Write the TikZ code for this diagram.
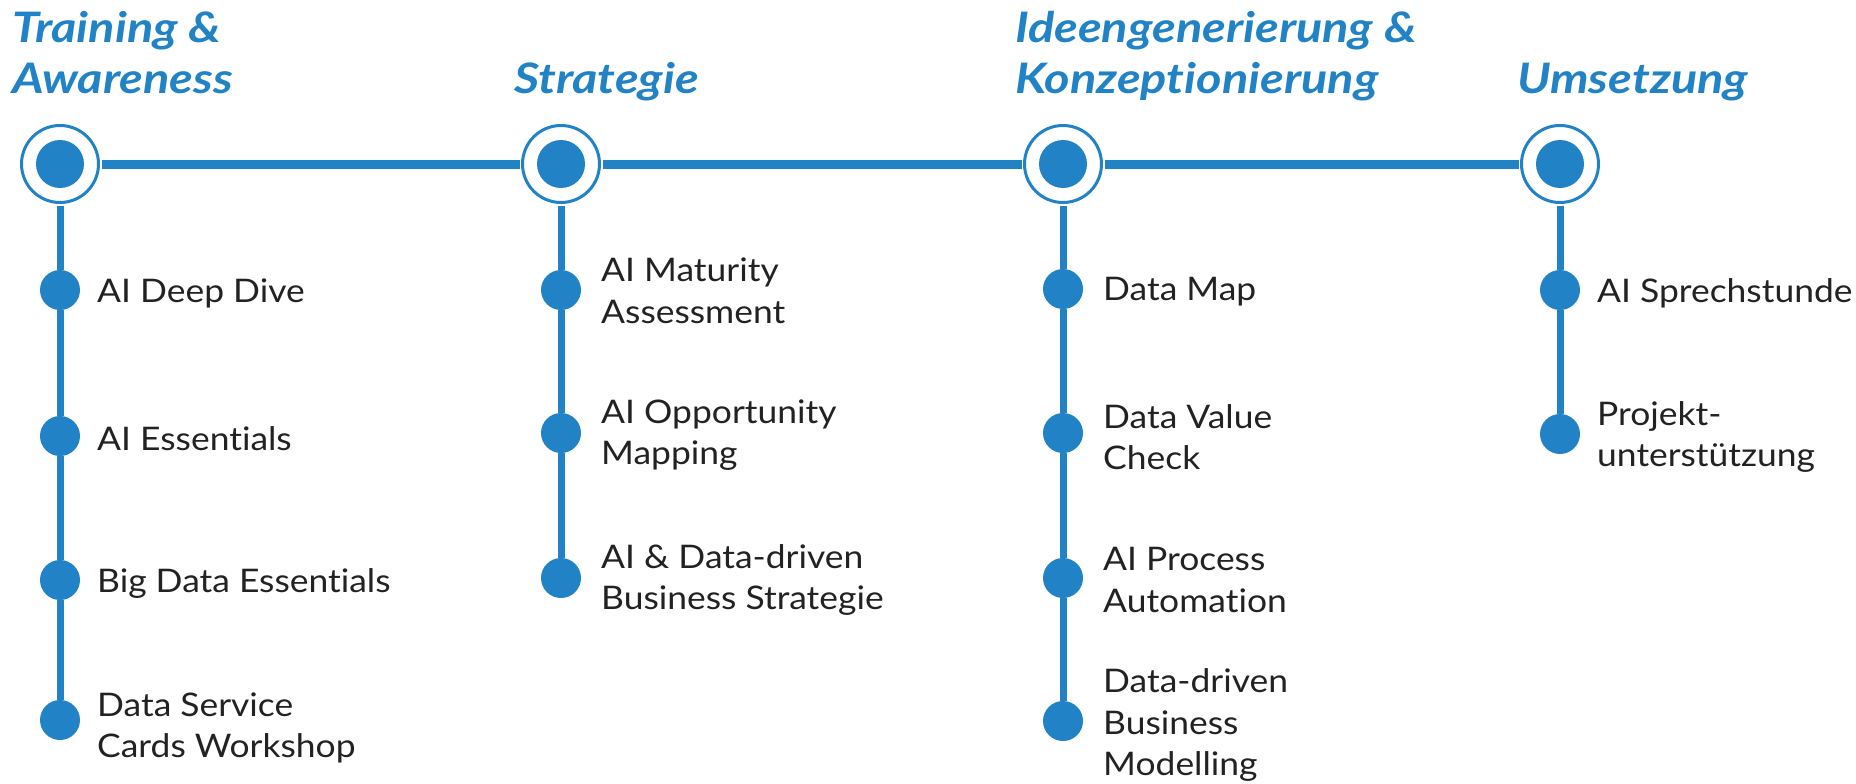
\documentclass[tikz,border=0pt]{standalone}
\usepackage{fontspec}
\setmainfont{Lato}[Ligatures=CommonOff]
\newfontfamily\itemfont{Lato}[Ligatures=CommonOff,FakeStretch=1.09]
\newfontfamily\titlefont{Lato}[Ligatures=CommonOff,FakeStretch=1.16]
\definecolor{tlblue}{RGB}{33,131,198}
\definecolor{tltext}{RGB}{34,34,34}
\begin{document}
\begin{tikzpicture}[x=1pt,y=-1pt,
  ring/.style={circle,draw=tlblue,line width=3pt,fill=white,minimum size=77pt,inner sep=0pt,outer sep=3pt,
    path picture={\fill[tlblue] (path picture bounding box.center) circle (24pt);}},
  dot/.style={circle,fill=tlblue,minimum size=40pt,inner sep=0pt,outer sep=0pt},
  hline/.style={draw=tlblue,line width=9pt},
  vline/.style={draw=tlblue,line width=7pt},
  item/.style={anchor=west,align=left,inner sep=0pt,text=tltext,font=\itemfont\fontsize{32.5}{41.5}\selectfont},
  ttl/.style={anchor=base west,align=left,inner sep=0pt,text=tlblue,font=\titlefont\fontsize{42}{51}\selectfont\bfseries\itshape}]
\useasboundingbox (0,0) rectangle (1856,784);
% rings
\node[ring] (r1) at (60,164) {};
\node[ring] (r2) at (561,164) {};
\node[ring] (r3) at (1063,164) {};
\node[ring] (r4) at (1560,164) {};
% dots
\node[dot] (d11) at (60,290) {};
\node[dot] (d12) at (60,436) {};
\node[dot] (d13) at (60,580) {};
\node[dot] (d14) at (60,720) {};
\node[dot] (d21) at (561,290) {};
\node[dot] (d22) at (561,433) {};
\node[dot] (d23) at (561,578) {};
\node[dot] (d31) at (1063,289) {};
\node[dot] (d32) at (1063,433) {};
\node[dot] (d33) at (1063,578) {};
\node[dot] (d34) at (1063,721) {};
\node[dot] (d41) at (1560,290) {};
\node[dot] (d42) at (1560,434) {};
% connectors
\draw[hline] (r1) -- (r2);
\draw[hline] (r2) -- (r3);
\draw[hline] (r3) -- (r4);
\draw[vline] (r1) -- (d11) -- (d12) -- (d13) -- (d14);
\draw[vline] (r2) -- (d21) -- (d22) -- (d23);
\draw[vline] (r3) -- (d31) -- (d32) -- (d33) -- (d34);
\draw[vline] (r4) -- (d41) -- (d42);
% titles
\node[ttl] (t1) at (12,93) {Training \&\\Awareness};
\node[ttl] (t2) at (514,93) {Strategie};
\node[ttl] (t3) at (1015,93) {Ideengenerierung \&\\Konzeptionierung};
\node[ttl] (t4) at (1517,93) {Umsetzung};
% items
\node[item] (l11) at (97,293) {AI Deep Dive};
\node[item] (l12) at (97,439) {AI Essentials};
\node[item] (l13) at (97,583) {Big Data Essentials};
\node[item] (l14) at (97,728) {Data Service\\Cards Workshop};
\node[item] (l21) at (601,291) {AI Maturity\\Assessment};
\node[item] (l22) at (601,435) {AI Opportunity\\Mapping};
\node[item] (l23) at (601,580) {AI \& Data-driven\\Business Strategie};
\node[item] (l31) at (1103,292) {Data Map};
\node[item] (l32) at (1103,437) {Data Value\\Check};
\node[item] (l33) at (1103,580) {AI Process\\Automation};
\node[item] (l34) at (1103,725) {Data-driven\\Business\\Modelling};
\node[item] (l41) at (1597,293) {AI Sprechstunde};
\node[item] (l42) at (1597,437) {Projekt-\\unterstützung};
\end{tikzpicture}
\end{document}
